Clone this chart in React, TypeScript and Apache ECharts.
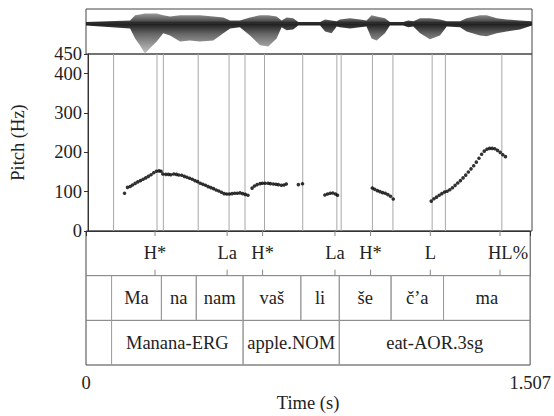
import React, { useEffect, useRef } from "react";
import * as echarts from "echarts";

const DURATION = 1.507;
const PITCH_MAX = 450;
const WAVE_MIN = -1.02;
const WAVE_MAX = 0.48;

const pitchTicks = [0, 100, 200, 300, 400, 450];
const timeTicks = [0, 1.507];

const pitchTimes = [
  0.124, 0.134, 0.143, 0.151, 0.16, 0.169, 0.178, 0.187, 0.196, 0.205, 0.214, 0.223,
  0.232, 0.241, 0.248, 0.254, 0.264, 0.273, 0.281, 0.291, 0.3, 0.308, 0.318, 0.327,
  0.336, 0.345, 0.354, 0.363, 0.372, 0.381, 0.39, 0.399, 0.408, 0.417, 0.426, 0.435,
  0.444, 0.453, 0.462, 0.471, 0.48, 0.489, 0.498, 0.507, 0.516, 0.525, 0.534, 0.543,
  0.557, 0.565, 0.574, 0.584, 0.592, 0.601, 0.611, 0.619, 0.629, 0.638, 0.646, 0.656,
  0.665, 0.673,
  0.714, 0.728,
  0.804, 0.813, 0.822, 0.831, 0.84, 0.847,
  0.965, 0.973, 0.982, 0.991, 1.0, 1.009, 1.018, 1.027, 1.036,
  1.165, 1.174, 1.183, 1.192, 1.201, 1.21, 1.219, 1.228, 1.237, 1.246, 1.255, 1.264,
  1.273, 1.282, 1.291, 1.3, 1.309, 1.318, 1.327, 1.336, 1.345, 1.354, 1.363, 1.372,
  1.381, 1.39, 1.399, 1.408, 1.417,
];
const pitchHz = [
  96, 111, 113, 117, 121, 125, 128, 131.5, 135, 139, 143, 148,
  152, 153, 152, 145, 144, 144, 143, 145, 144, 142.5, 141.6, 139,
  136.6, 134, 131.5, 128, 125.5, 121.3, 118.7, 116.2, 112.8, 110.3, 107.7, 104.3,
  101.8, 98.4, 95, 94, 94, 95, 96, 96, 97, 95, 93, 91,
  109, 114.5, 118, 120.4, 121.3, 121.3, 121.3, 120.4, 119.5, 118.7, 118, 116.2,
  117, 119.5,
  118, 120,
  91.6, 94.1, 95.9, 96.7, 94.1, 90.8,
  109.4, 106, 102.6, 100, 97.5, 95.9, 92.4, 88.2, 81.4,
  76, 82, 86, 91, 95, 99, 101, 105, 110, 116, 122, 128,
  135, 142, 150, 158, 166, 175, 185, 195, 203, 208, 210, 210,
  209, 205, 200, 194, 189,
];

// waveform envelope (normalised amplitude)
const waveTimes = [
  0, 0.149, 0.166, 0.182, 0.199, 0.216, 0.239, 0.261, 0.284, 0.318, 0.351, 0.385,
  0.43, 0.464, 0.487, 0.52, 0.554, 0.588, 0.616, 0.644, 0.661, 0.678, 0.7, 0.717,
  0.791, 0.808, 0.83, 0.847, 0.858, 0.892, 0.926, 0.948, 0.965, 0.982, 1.01, 1.027,
  1.072, 1.089, 1.106, 1.129, 1.162, 1.196, 1.219, 1.264, 1.286, 1.331, 1.354, 1.388,
  1.421, 1.466, 1.507,
];
const waveUpper = [
  0.05, 0.1, 0.27, 0.3, 0.33, 0.33, 0.33, 0.27, 0.23, 0.27, 0.27, 0.27,
  0.23, 0.2, 0.1, 0.1, 0.2, 0.27, 0.27, 0.23, 0.1, 0.2, 0.17, 0.05,
  0.05, 0.13, 0.1, 0.07, 0.13, 0.17, 0.13, 0.1, 0.27, 0.23, 0.17, 0.05,
  0.05, 0.1, 0.07, 0.17, 0.17, 0.13, 0.07, 0.07, 0.17, 0.27, 0.27, 0.17,
  0.13, 0.1, 0.07,
];
const waveLower = [
  -0.07, -0.17, -0.5, -0.73, -1.0, -0.83, -0.6, -0.33, -0.4, -0.6, -0.57, -0.6,
  -0.57, -0.33, -0.17, -0.13, -0.4, -0.73, -0.77, -0.5, -0.13, -0.23, -0.2, -0.07,
  -0.07, -0.27, -0.33, -0.1, -0.13, -0.17, -0.13, -0.1, -0.5, -0.57, -0.33, -0.07,
  -0.07, -0.13, -0.1, -0.33, -0.53, -0.4, -0.1, -0.13, -0.27, -0.4, -0.43, -0.33,
  -0.27, -0.2, -0.07,
];

const toneTimes = [0.2342, 0.4788, 0.5991, 0.8447, 0.9654, 1.1681, 1.4046];
const toneLabels = ["H*", "La", "H*", "La", "H*", "L", "HL%"];

const syllableBounds = [0.0868, 0.2558, 0.3741, 0.5329, 0.7288, 0.8593, 1.035, 1.213, 1.507];
const syllableLabels = ["Ma", "na", "nam", "vaš", "li", "še", "č’a", "ma"];

const wordBounds = [0.0868, 0.5329, 0.8593, 1.507];
const wordLabels = ["Manana-ERG", "apple.NOM", "eat-AOR.3sg"];

const FONT_FAMILY = "'Liberation Serif', 'Times New Roman', serif";
const FONT_SIZE = 18.5;
const TEXT = "#222";
const toneLabelShift: Record<string, number> = { "HL%": 8 };

export default function App() {
  const ref = useRef<HTMLDivElement>(null);

  useEffect(() => {
    document.body.style.margin = "0";
    const chart = echarts.init(ref.current!, null, { renderer: "svg" });

    const pitchData = pitchTimes.map((t, i) => [t, pitchHz[i]]);

    const lineTimes = Array.from(
      new Set([...syllableBounds.slice(0, -1), ...toneTimes])
    ).sort((a, b) => a - b);

    const intervals: { s: number; e: number; row: number; label: string }[] = [];
    for (let i = 0; i < syllableLabels.length; i++) {
      intervals.push({ s: syllableBounds[i], e: syllableBounds[i + 1], row: 1, label: syllableLabels[i] });
    }
    for (let i = 0; i < wordLabels.length; i++) {
      intervals.push({ s: wordBounds[i], e: wordBounds[i + 1], row: 2, label: wordLabels[i] });
    }

    const font = `${FONT_SIZE}px ${FONT_FAMILY}`;

    const option: any = {
      animation: false,
      backgroundColor: "#fff",
      grid: [
        { left: 86, top: 9, width: 446, height: 45, show: true, borderColor: "#444", borderWidth: 1 },
        { left: 86, top: 54, width: 446, height: 177, show: true, borderColor: "#444", borderWidth: 1 },
        { left: 86, top: 231, width: 446, height: 134, show: true, borderColor: "#444", borderWidth: 1 },
      ],
      xAxis: [
        { type: "value", gridIndex: 0, min: 0, max: DURATION, show: false },
        { type: "value", gridIndex: 1, min: 0, max: DURATION, show: false },
        {
          type: "value",
          gridIndex: 2,
          min: 0,
          max: DURATION,
          axisLine: { show: true, lineStyle: { color: "#333" } },
          axisTick: { show: true, customValues: timeTicks, length: 5, lineStyle: { color: "#333" } },
          axisLabel: {
            customValues: timeTicks,
            margin: 8,
            fontSize: FONT_SIZE,
            fontFamily: FONT_FAMILY,
            color: TEXT,
            formatter: (v: number) => String(v),
          },
          splitLine: { show: false },
          name: "Time (s)",
          nameLocation: "middle",
          nameGap: 28,
          nameTextStyle: { fontSize: FONT_SIZE, fontFamily: FONT_FAMILY, color: TEXT },
        },
      ],
      yAxis: [
        { type: "value", gridIndex: 0, min: WAVE_MIN, max: WAVE_MAX, show: false },
        {
          type: "value",
          gridIndex: 1,
          min: 0,
          max: PITCH_MAX,
          axisLine: { show: true, lineStyle: { color: "#333" } },
          axisTick: { show: true, customValues: pitchTicks, length: 4, lineStyle: { color: "#333" } },
          axisLabel: {
            customValues: pitchTicks,
            margin: 6,
            fontSize: FONT_SIZE,
            fontFamily: FONT_FAMILY,
            color: TEXT,
          },
          splitLine: { show: false },
          name: "Pitch (Hz)",
          nameLocation: "middle",
          nameGap: 61,
          nameRotate: 90,
          nameTextStyle: { fontSize: FONT_SIZE, fontFamily: FONT_FAMILY, color: TEXT },
        },
        { type: "value", gridIndex: 2, min: 0, max: 3, inverse: true, show: false },
      ],
      series: [
        {
          type: "custom",
          xAxisIndex: 0,
          yAxisIndex: 0,
          data: [[0, 0]],
          clip: false,
          renderItem: (_p: any, api: any) => {
            const up = waveTimes.map((t, i) => api.coord([t, waveUpper[i]]));
            const low = waveTimes.map((t, i) => api.coord([t, waveLower[i]])).reverse();
            const top = Math.min(...up.map((p: number[]) => p[1]));
            const bottom = Math.max(...low.map((p: number[]) => p[1]));
            const start = api.coord([0, 0]);
            const end = api.coord([DURATION, 0]);
            const c = Math.max(0.01, Math.min(0.99, (start[1] - top) / (bottom - top)));
            return {
              type: "group",
              children: [
                {
                  type: "polygon",
                  shape: { points: up.concat(low) },
                  style: {
                    fill: new echarts.graphic.LinearGradient(0, 0, 0, 1, [
                      { offset: 0, color: "#9a9a9a" },
                      { offset: c * 0.7, color: "#555" },
                      { offset: c, color: "#1a1a1a" },
                      { offset: c + (1 - c) * 0.35, color: "#666" },
                      { offset: 1, color: "#c4c4c4" },
                    ]),
                  },
                },
                {
                  type: "line",
                  shape: { x1: start[0], y1: start[1], x2: end[0], y2: end[1] },
                  style: { stroke: "#333", lineWidth: 0.8 },
                },
              ],
            };
          },
        },
        {
          type: "custom",
          xAxisIndex: 1,
          yAxisIndex: 1,
          z: 1,
          data: lineTimes.map((t) => [t, 0]),
          renderItem: (_p: any, api: any) => {
            const t = api.value(0);
            const a = api.coord([t, 0]);
            const b = api.coord([t, PITCH_MAX]);
            return {
              type: "line",
              shape: { x1: a[0], y1: a[1], x2: b[0], y2: b[1] },
              style: { stroke: "#a8a8a8", lineWidth: 1 },
            };
          },
        },
        {
          type: "scatter",
          xAxisIndex: 1,
          yAxisIndex: 1,
          z: 3,
          symbol: "circle",
          symbolSize: 3.6,
          itemStyle: { color: "#000" },
          data: pitchData,
        },
        {
          type: "custom",
          xAxisIndex: 2,
          yAxisIndex: 2,
          data: [[0, 1], [0, 2]],
          renderItem: (_p: any, api: any) => {
            const r = api.value(1);
            const a = api.coord([0, r]);
            const b = api.coord([DURATION, r]);
            return {
              type: "line",
              shape: { x1: a[0], y1: a[1], x2: b[0], y2: b[1] },
              style: { stroke: "#777", lineWidth: 1 },
            };
          },
        },
        {
          type: "custom",
          xAxisIndex: 2,
          yAxisIndex: 2,
          data: intervals.map((it) => [it.s, it.row, it.e]),
          renderItem: (p: any, api: any) => {
            const it = intervals[p.dataIndex];
            const tl = api.coord([it.s, it.row]);
            const br = api.coord([it.e, it.row + 1]);
            return {
              type: "group",
              children: [
                {
                  type: "line",
                  shape: { x1: tl[0], y1: tl[1], x2: tl[0], y2: br[1] },
                  style: { stroke: "#999", lineWidth: 1 },
                },
                {
                  type: "line",
                  shape: { x1: br[0], y1: tl[1], x2: br[0], y2: br[1] },
                  style: { stroke: "#999", lineWidth: 1 },
                },
                {
                  type: "text",
                  x: (tl[0] + br[0]) / 2,
                  y: (tl[1] + br[1]) / 2,
                  style: { text: it.label, fill: TEXT, font, align: "center", verticalAlign: "middle" },
                },
              ],
            };
          },
        },
        {
          type: "custom",
          xAxisIndex: 2,
          yAxisIndex: 2,
          data: toneTimes.map((t) => [t, 0]),
          renderItem: (p: any, api: any) => {
            const t = api.value(0);
            const label = toneLabels[p.dataIndex];
            const a = api.coord([t, 0]);
            const b = api.coord([t, 1]);
            return {
              type: "group",
              children: [
                {
                  type: "line",
                  shape: { x1: a[0], y1: a[1], x2: a[0], y2: a[1] + 5 },
                  style: { stroke: "#888", lineWidth: 1 },
                },
                {
                  type: "line",
                  shape: { x1: b[0], y1: b[1] - 6, x2: b[0], y2: b[1] },
                  style: { stroke: "#888", lineWidth: 1 },
                },
                {
                  type: "text",
                  x: a[0] + (toneLabelShift[label] || 0),
                  y: (a[1] + b[1]) / 2,
                  style: { text: label, fill: TEXT, font, align: "center", verticalAlign: "middle" },
                },
              ],
            };
          },
        },
      ],
    };

    chart.setOption(option);
    return () => chart.dispose();
  }, []);

  return <div ref={ref} style={{ width: 554, height: 416 }} />;
}
